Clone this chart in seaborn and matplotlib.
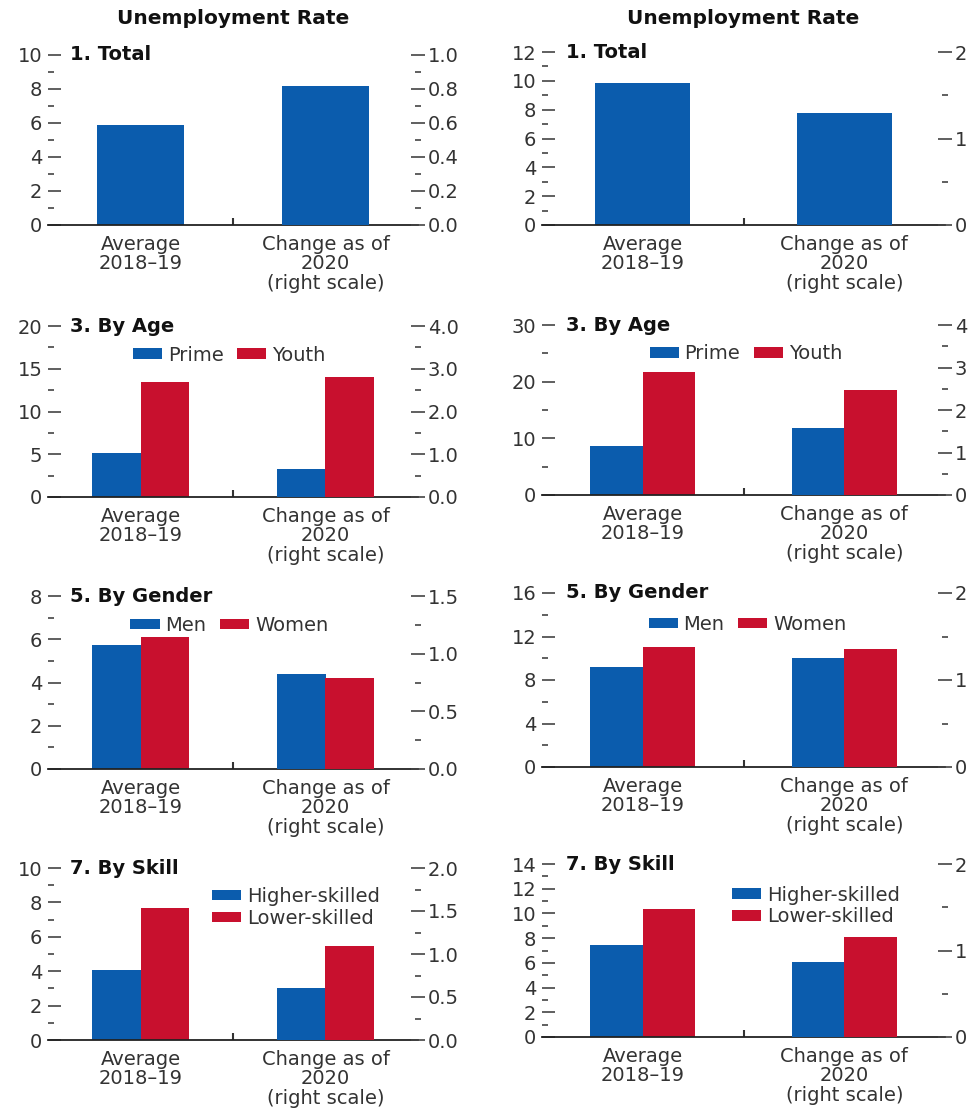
import pandas as pd
import matplotlib.pyplot as plt
import matplotlib.ticker as mticker
from matplotlib.patches import Patch
import seaborn as sns

# Dados
periods = ["Average\n2018–19", "Change as of\n2020\n(right scale)"]

total_groups = ["Total"]
age_groups = ["Prime", "Youth"]
gender_groups = ["Men", "Women"]
skill_groups = ["Higher-skilled", "Lower-skilled"]

# coluna da esquerda: [media 2018-19 (escala esq.), variacao 2020 (escala dir.)]
total_left = [5.9, 0.82]
age_left_prime = [5.1, 0.65]
age_left_youth = [13.4, 2.8]
gender_left_men = [5.75, 0.82]
gender_left_women = [6.1, 0.79]
skill_left_high = [4.07, 0.60]
skill_left_low = [7.67, 1.09]

# coluna da direita
total_right = [9.85, 1.30]
age_right_prime = [8.6, 1.58]
age_right_youth = [21.7, 2.47]
gender_right_men = [9.2, 1.25]
gender_right_women = [11.0, 1.36]
skill_right_high = [7.45, 0.87]
skill_right_low = [10.36, 1.16]

BLUE = "#0B5CAD"
RED = "#C8102E"
TXT = "#333333"

sns.set_style("white")
plt.rcParams["font.family"] = ["DejaVu Sans"]

fig = plt.figure(figsize=(9.77, 11.09), dpi=100)
W, H = 977.0, 1109.0


def make_ax(x0, x1, top, bottom):
    return fig.add_axes([x0 / W, 1 - bottom / H, (x1 - x0) / W, (bottom - top) / H])


def draw_panel(ax, title, groups, values, left_max, left_step, right_max, right_step,
               right_fmt, leg_anchor=None, leg_ncol=2):
    rows = []
    for g, vals in zip(groups, values):
        for p, v in zip(periods, vals):
            rows.append({"period": p, "group": g, "value": v})
    df = pd.DataFrame(rows)
    pal = dict(zip(groups, [BLUE, RED]))
    width = 0.47 if len(groups) == 1 else 0.52

    ax2 = ax.twinx()
    sns.barplot(data=df[df["period"] == periods[0]], x="period", y="value", hue="group",
                order=periods, hue_order=groups, palette=pal, width=width, gap=0,
                saturation=1, errorbar=None, legend=False, linewidth=0, ax=ax)
    sns.barplot(data=df[df["period"] == periods[1]], x="period", y="value", hue="group",
                order=periods, hue_order=groups, palette=pal, width=width, gap=0,
                saturation=1, errorbar=None, legend=False, linewidth=0, ax=ax2)

    ax.set_xlim(-0.5, 1.5)
    ax.set_ylim(0, left_max)
    ax2.set_ylim(0, right_max)
    ax.set_xlabel("")
    ax.set_ylabel("")
    ax2.set_ylabel("")

    ax.yaxis.set_major_locator(mticker.MultipleLocator(left_step))
    ax.yaxis.set_minor_locator(mticker.MultipleLocator(left_step / 2))
    ax2.yaxis.set_major_locator(mticker.MultipleLocator(right_step))
    ax2.yaxis.set_minor_locator(mticker.MultipleLocator(right_step / 2))
    ax2.yaxis.set_major_formatter(mticker.FormatStrFormatter(right_fmt))

    ax.set_xticks([0, 1])
    ax.set_xticklabels(periods, linespacing=1.03)
    ax.set_xticks([0.5], minor=True)
    ax.tick_params(axis="x", which="major", bottom=True, length=0, pad=7,
                   labelsize=14, labelcolor=TXT)
    ax.tick_params(axis="x", which="minor", bottom=True, direction="in", length=5,
                   width=1.5, color="#333")

    ax.tick_params(axis="y", which="major", left=True, direction="in", length=9, width=1.2,
                   color="#444", labelsize=14, labelcolor=TXT, pad=4)
    ax.tick_params(axis="y", which="minor", left=True, direction="in", length=4, width=1.2,
                   color="#444")
    ax2.tick_params(axis="y", which="major", right=True, direction="inout", length=10,
                    width=1.2, color="#444", labelsize=14, labelcolor=TXT, pad=2)
    ax2.tick_params(axis="y", which="minor", right=True, direction="inout", length=5,
                    width=1.2, color="#444")

    for s in ["top", "left", "right"]:
        ax.spines[s].set_visible(False)
    ax.spines["bottom"].set_color("#222")
    ax.spines["bottom"].set_linewidth(1.3)
    for s in ax2.spines.values():
        s.set_visible(False)

    ax.text(0.06, 1.0, title, transform=ax.transAxes, fontsize=14, fontweight="bold",
            color="#111", ha="left", va="center")

    if leg_anchor is not None:
        handles = [Patch(facecolor=pal[g], edgecolor="none", label=g) for g in groups]
        ax2.legend(handles=handles, loc="center", bbox_to_anchor=leg_anchor, ncol=leg_ncol,
                   frameon=False, fontsize=14, handlelength=1.5, handleheight=0.45,
                   handletextpad=0.3, columnspacing=0.7, labelspacing=0.15, borderpad=0,
                   labelcolor=TXT)


# titulos das colunas
fig.text(233 / W, 1 - 18 / H, "Unemployment Rate", ha="center", va="center",
         fontsize=14.5, fontweight="bold", color="#111")
fig.text(743 / W, 1 - 18 / H, "Unemployment Rate", ha="center", va="center",
         fontsize=14.5, fontweight="bold", color="#111")

# coluna esquerda
ax = make_ax(48, 418, 55, 225)
draw_panel(ax, "1. Total", total_groups, [total_left], 10, 2, 1.0, 0.2, "%.1f")

ax = make_ax(48, 418, 326, 497)
draw_panel(ax, "3. By Age", age_groups, [age_left_prime, age_left_youth],
           20, 5, 4.0, 1.0, "%.1f", leg_anchor=(0.49, 0.83))

ax = make_ax(48, 418, 596, 769)
draw_panel(ax, "5. By Gender", gender_groups, [gender_left_men, gender_left_women],
           8, 2, 1.5, 0.5, "%.1f", leg_anchor=(0.49, 0.83))

ax = make_ax(48, 418, 868, 1040)
draw_panel(ax, "7. By Skill", skill_groups, [skill_left_high, skill_left_low],
           10, 2, 2.0, 0.5, "%.1f", leg_anchor=(0.67, 0.77), leg_ncol=1)

# coluna direita
ax = make_ax(542, 945, 52, 225)
draw_panel(ax, "1. Total", total_groups, [total_right], 12, 2, 2, 1, "%d")

ax = make_ax(542, 945, 325, 495)
draw_panel(ax, "3. By Age", age_groups, [age_right_prime, age_right_youth],
           30, 10, 4, 1, "%d", leg_anchor=(0.506, 0.83))

ax = make_ax(542, 945, 593, 767)
draw_panel(ax, "5. By Gender", gender_groups, [gender_right_men, gender_right_women],
           16, 4, 2, 1, "%d", leg_anchor=(0.51, 0.82))

ax = make_ax(542, 945, 864, 1037)
draw_panel(ax, "7. By Skill", skill_groups, [skill_right_high, skill_right_low],
           14, 2, 2, 1, "%d", leg_anchor=(0.68, 0.757), leg_ncol=1)

fig.savefig("out.png", dpi=100)
